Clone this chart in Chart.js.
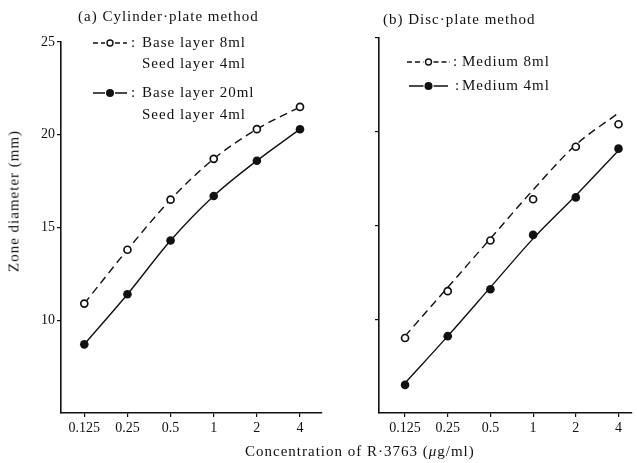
<!DOCTYPE html>
<html>
<head>
<meta charset="utf-8">
<script src="https://cdn.jsdelivr.net/npm/chart.js@4.4.0/dist/chart.umd.min.js"></script>
<style>
  body { margin: 0; background: #fff; width: 637px; height: 463px; position: relative; overflow: hidden;
         font-family: "Liberation Serif", serif; color: #111; }
  .box { position: absolute; top: 0; height: 463px; }
  #left { left: 0; width: 330px; }
  #right { left: 330px; width: 307px; }
  .txt { position: absolute; white-space: nowrap; font-size: 15px; line-height: 15px; letter-spacing: 1px; }
</style>
</head>
<body>
<div class="box" id="left"><canvas id="c1" width="330" height="463"></canvas></div>
<div class="box" id="right"><canvas id="c2" width="307" height="463"></canvas></div>
<div class="txt" style="left:78px;top:9px;">(a) Cylinder·plate method</div>
<div class="txt" style="left:383px;top:12px;">(b) Disc·plate method</div>
<div class="txt" style="left:245px;top:444px;">Concentration of R·3763 (<i>μ</i>g/ml)</div>
<div class="txt" style="left:14px;top:201px;transform:translate(-50%,-50%) rotate(-90deg);">Zone diameter (mm)</div>
<script>
// concentrations (µg/ml) on the x axis
const concLabels = ['0.125', '0.25', '0.5', '1', '2', '4'];
const yTicks = [10, 15, 20, 25];

// (a) cylinder-plate method
const cylBase8 = [10.9, 13.8, 16.5, 18.7, 20.3, 21.5];
const cylBase20 = [8.7, 11.4, 14.3, 16.7, 18.6, 20.3];

// (b) disc-plate method, measured points and drawn fit lines
const discMed8 = [9.0, 11.5, 14.2, 16.4, 19.2, 20.4];
const discMed4 = [6.5, 9.1, 11.6, 14.5, 16.5, 19.1];
const discMed8Fit = [9.1, 11.7, 14.3, 16.9, 19.3, 21.0];
const discMed4Fit = [6.6, 9.1, 11.7, 14.3, 16.6, 19.0];

const ink = '#111';
const pts = arr => arr.map((v, i) => ({ x: i, y: v }));

function openSet(data, showLine) {
  return {
    data: pts(data), showLine: showLine, borderColor: ink, borderWidth: 1.4, borderDash: [8, 5],
    cubicInterpolationMode: 'monotone', pointRadius: 3.5, pointBackgroundColor: '#fff',
    pointBorderColor: ink, pointBorderWidth: 1.7
  };
}
function filledSet(data, showLine) {
  return {
    data: pts(data), showLine: showLine, borderColor: ink, borderWidth: 1.4,
    cubicInterpolationMode: 'monotone', pointRadius: 4.3, pointBackgroundColor: ink,
    pointBorderColor: ink, pointBorderWidth: 0
  };
}
function lineOnly(data, dashed) {
  return {
    data: pts(data), showLine: true, borderColor: ink, borderWidth: 1.4, borderDash: dashed ? [8, 5] : [],
    cubicInterpolationMode: 'monotone', pointRadius: 0
  };
}

// hand-drawn style legend
const legendPlugin = {
  id: 'handLegend',
  afterDraw(chart, args, opts) {
    const ctx = chart.ctx;
    ctx.save();
    ctx.font = '15px "Liberation Serif", serif';
    ctx.letterSpacing = '1px';
    ctx.fillStyle = ink;
    ctx.strokeStyle = ink;
    ctx.textBaseline = 'middle';
    opts.items.forEach(it => {
      const mid = (it.x0 + it.x1) / 2;
      ctx.lineWidth = 1.5;
      ctx.setLineDash(it.dashed ? [5, 3] : []);
      ctx.beginPath();
      ctx.moveTo(it.x0, it.y); ctx.lineTo(mid - 5, it.y);
      ctx.moveTo(mid + 5, it.y); ctx.lineTo(it.x1, it.y);
      ctx.stroke();
      ctx.setLineDash([]);
      ctx.beginPath();
      if (it.dashed) {
        ctx.arc(mid, it.y, 3, 0, Math.PI * 2);
        ctx.fillStyle = '#fff'; ctx.fill();
        ctx.lineWidth = 1.4; ctx.stroke();
      } else {
        ctx.arc(mid, it.y, 4, 0, Math.PI * 2);
        ctx.fillStyle = ink; ctx.fill();
      }
      ctx.fillStyle = ink;
      ctx.fillText(':', it.colon, it.y);
      it.lines.forEach((t, k) => ctx.fillText(t, it.tx, it.y + k * it.gap));
    });
    ctx.restore();
  }
};

function makeOptions(xMin, xMax, padding, yWidth, showYLabels, legendItems) {
  return {
    responsive: false,
    animation: false,
    layout: { padding: padding },
    plugins: { legend: { display: false }, tooltip: { enabled: false }, handLegend: { items: legendItems } },
    scales: {
      x: {
        type: 'linear', min: xMin, max: xMax,
        afterBuildTicks: s => { s.ticks = concLabels.map((_, i) => ({ value: i })); },
        afterFit: s => { s.height = 50; },
        ticks: { callback: v => concLabels[v], color: ink, font: { family: '"Liberation Serif", serif', size: 14 }, padding: 3, maxRotation: 0 },
        grid: { drawOnChartArea: false, drawTicks: true, tickLength: 4, color: ink, lineWidth: 1.2 },
        border: { display: true, color: ink, width: 1.6 }
      },
      y: {
        type: 'linear', min: 5, max: 25,
        afterBuildTicks: s => { s.ticks = yTicks.map(v => ({ value: v })); },
        afterFit: s => { s.width = yWidth; },
        ticks: { display: showYLabels, color: ink, font: { family: '"Liberation Serif", serif', size: 14 }, padding: 2 },
        grid: { drawOnChartArea: false, drawTicks: true, tickLength: 4, color: ink, lineWidth: 1.2 },
        border: { display: true, color: ink, width: 1.6 }
      }
    }
  };
}

new Chart(document.getElementById('c1'), {
  type: 'scatter',
  data: { datasets: [openSet(cylBase8, true), filledSet(cylBase20, true)] },
  options: makeOptions(-0.54, 5.51, { left: 0, right: 8, top: 42, bottom: 0 }, 61, true, [
    { x0: 93, x1: 127, y: 43, dashed: true, colon: 131, tx: 142, gap: 21, lines: ['Base layer 8ml', 'Seed layer 4ml'] },
    { x0: 93, x1: 127, y: 93, dashed: false, colon: 131, tx: 142, gap: 22, lines: ['Base layer 20ml', 'Seed layer 4ml'] }
  ]),
  plugins: [legendPlugin]
});

new Chart(document.getElementById('c2'), {
  type: 'scatter',
  data: { datasets: [openSet(discMed8, false), filledSet(discMed4, false), lineOnly(discMed8Fit, true), lineOnly(discMed4Fit, false)] },
  options: makeOptions(-0.61, 5.3, { left: 0, right: 0, top: 38, bottom: 0 }, 49, false, [
    { x0: 77, x1: 120, y: 62, dashed: true, colon: 123, tx: 132, gap: 0, lines: ['Medium 8ml'] },
    { x0: 79, x1: 118, y: 86, dashed: false, colon: 125, tx: 132, gap: 0, lines: ['Medium 4ml'] }
  ]),
  plugins: [legendPlugin]
});
</script>
</body>
</html>
